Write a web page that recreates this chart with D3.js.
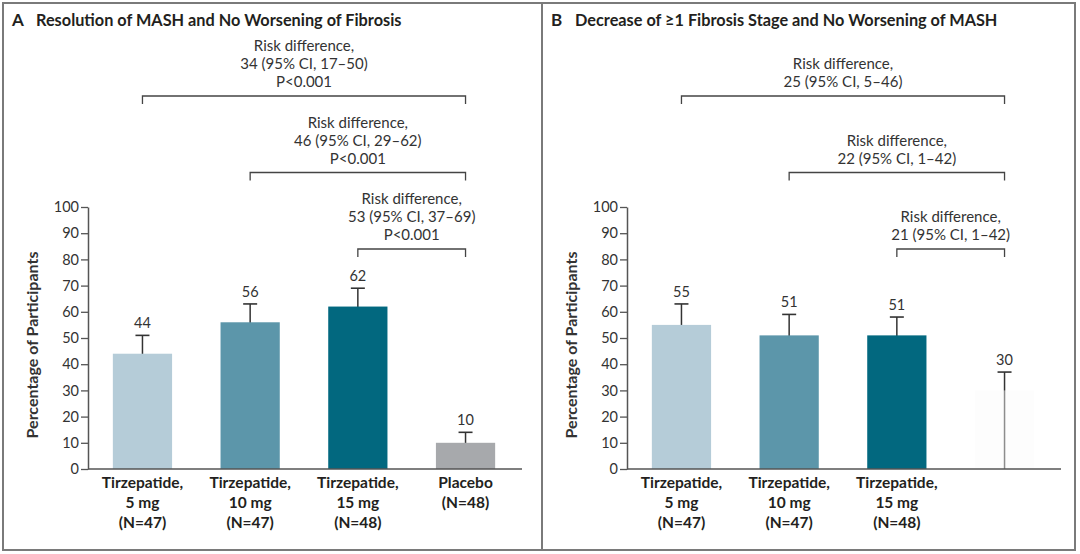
<!DOCTYPE html>
<html>
<head>
<meta charset="utf-8">
<script src="https://cdn.jsdelivr.net/npm/d3@7"></script>
<style>
  html, body { margin: 0; padding: 0; background: #fff; }
  svg { display: block; font-family: Lato, "Noto Sans", sans-serif; }
</style>
</head>
<body>
<div id="art"></div>
<script>
// categories (one entry per bar, lines of the x label)
const groupLabelsA = [
  ["Tirzepatide,", "5 mg", "(N=47)"],
  ["Tirzepatide,", "10 mg", "(N=47)"],
  ["Tirzepatide,", "15 mg", "(N=48)"],
  ["Placebo", "(N=48)"]
];
const groupLabelsB = [
  ["Tirzepatide,", "5 mg", "(N=47)"],
  ["Tirzepatide,", "10 mg", "(N=47)"],
  ["Tirzepatide,", "15 mg", "(N=48)"],
  []
];

// percentages and upper limits of the error bars
const valuesA = [44, 56, 62, 10];
const upperA = [51, 63, 69, 14];
const valuesB = [55, 51, 51, 30];
const upperB = [63, 59, 58, 37];

const yTicks = [0, 10, 20, 30, 40, 50, 60, 70, 80, 90, 100];

// risk difference comparisons: [from bar, to bar, text lines]
const comparisonsA = [
  [0, 3, ["Risk difference,", "34 (95% CI, 17\u201350)", "P<0.001"]],
  [1, 3, ["Risk difference,", "46 (95% CI, 29\u201362)", "P<0.001"]],
  [2, 3, ["Risk difference,", "53 (95% CI, 37\u201369)", "P<0.001"]]
];
const comparisonsB = [
  [0, 3, ["Risk difference,", "25 (95% CI, 5\u201346)"]],
  [1, 3, ["Risk difference,", "22 (95% CI, 1\u201342)"]],
  [2, 3, ["Risk difference,", "21 (95% CI, 1\u201342)"]]
];

const titleA = "Resolution of MASH and No Worsening of Fibrosis";
const titleB = "Decrease of \u22651 Fibrosis Stage and No Worsening of MASH";

const coloursA = ["#b5ccd8", "#5c96aa", "#02687f", "#a7a9ac"];
const coloursB = ["#b5ccd8", "#5c96aa", "#02687f", "rgba(250,250,250,0.45)"];

const W = 1080, H = 554;
const ink = "#231f20";

const svg = d3.select("#art").append("svg")
  .attr("width", W).attr("height", H)
  .attr("viewBox", `0 0 ${W} ${H}`);

// frame
const frame = svg.append("g").attr("stroke", "#7a7a7a").attr("stroke-width", 2).attr("fill", "none");
frame.append("rect").attr("x", 3).attr("y", 3).attr("width", 1072).attr("height", 547);
frame.append("line").attr("x1", 542).attr("x2", 542).attr("y1", 3).attr("y2", 550);

const y = d3.scaleLinear().domain([0, 100]).range([469, 207]);

function panel(ox, letter, title, labels, values, upper, colours, comps) {
  const g = svg.append("g").attr("transform", `translate(${ox},0)`);

  g.append("text").attr("x", 12).attr("y", 26)
    .attr("font-size", 17).attr("font-weight", 700).attr("fill", ink).text(letter);
  g.append("text").attr("x", 36).attr("y", 26)
    .attr("font-size", 16.3).attr("font-weight", 700).attr("fill", ink).text(title);

  const x = d3.scaleBand().domain(d3.range(values.length))
    .range([87, 521]).paddingInner(0.45).paddingOuter(0.24);
  const cx = i => x(i) + x.bandwidth() / 2;

  // y axis
  const ax = g.append("g").attr("transform", "translate(88,0)")
    .call(d3.axisLeft(y).tickValues(yTicks).tickSize(7).tickSizeOuter(0).tickPadding(2));
  ax.select(".domain").attr("stroke", "#555").attr("stroke-width", 1.5);
  ax.selectAll(".tick line").attr("stroke", "#555").attr("stroke-width", 1.3);
  ax.selectAll(".tick text").attr("font-size", 14.5).attr("fill", "#333").attr("font-family", "Lato, sans-serif");

  g.append("text")
    .attr("transform", `translate(38,${(y(0) + y(100)) / 2 + 7}) rotate(-90)`)
    .attr("text-anchor", "middle").attr("font-size", 16).attr("font-weight", 700)
    .attr("fill", "#333").text("Percentage of Participants");

  // whiskers (from zero, the bars cover the lower part)
  const idx = d3.range(values.length);
  g.selectAll(".whisker").data(idx).enter().append("line")
    .attr("x1", cx).attr("x2", cx)
    .attr("y1", y(0)).attr("y2", i => y(upper[i]))
    .attr("stroke", "#333").attr("stroke-width", 1.5);
  g.selectAll(".cap").data(idx).enter().append("line")
    .attr("x1", i => cx(i) - 7).attr("x2", i => cx(i) + 7)
    .attr("y1", i => y(upper[i])).attr("y2", i => y(upper[i]))
    .attr("stroke", "#333").attr("stroke-width", 1.6);

  g.selectAll(".bar").data(idx).enter().append("rect")
    .attr("x", i => x(i)).attr("width", x.bandwidth())
    .attr("y", i => y(values[i])).attr("height", i => y(0) - y(values[i]))
    .attr("fill", i => colours[i]);

  g.selectAll(".val").data(idx).enter().append("text")
    .attr("x", cx).attr("y", i => y(upper[i]) - 7)
    .attr("text-anchor", "middle").attr("font-size", 14.5).attr("fill", "#333")
    .text(i => values[i]);

  // baseline
  g.append("line").attr("x1", 88).attr("x2", 522).attr("y1", y(0)).attr("y2", y(0))
    .attr("stroke", "#555").attr("stroke-width", 1.5);

  // x labels
  const xl = g.selectAll(".xl").data(idx).enter().append("text")
    .attr("text-anchor", "middle").attr("font-size", 15.5).attr("font-weight", 700).attr("fill", ink);
  xl.selectAll("tspan").data(i => labels[i].map(t => [i, t])).enter().append("tspan")
    .attr("x", d => cx(d[0])).attr("y", (d, k) => 488 + k * 20).text(d => d[1]);

  // risk difference brackets
  comps.forEach((c, k) => {
    const by = 96 + k * 76.5;
    const x1 = cx(c[0]), x2 = cx(c[1]);
    g.append("path")
      .attr("d", `M${x1},${by + 8}V${by}H${x2}V${by + 8}`)
      .attr("fill", "none").attr("stroke", "#444").attr("stroke-width", 1.3);
    const n = c[2].length;
    g.append("g").selectAll("text").data(c[2]).enter().append("text")
      .attr("x", (x1 + x2) / 2).attr("y", (d, j) => by - 9 - (n - 1 - j) * 18)
      .attr("text-anchor", "middle").attr("font-size", 15).attr("fill", "#333")
      .text(d => d);
  });
}

panel(0, "A", titleA, groupLabelsA, valuesA, upperA, coloursA, comparisonsA);
panel(539, "B", titleB, groupLabelsB, valuesB, upperB, coloursB, comparisonsB);
</script>
</body>
</html>
